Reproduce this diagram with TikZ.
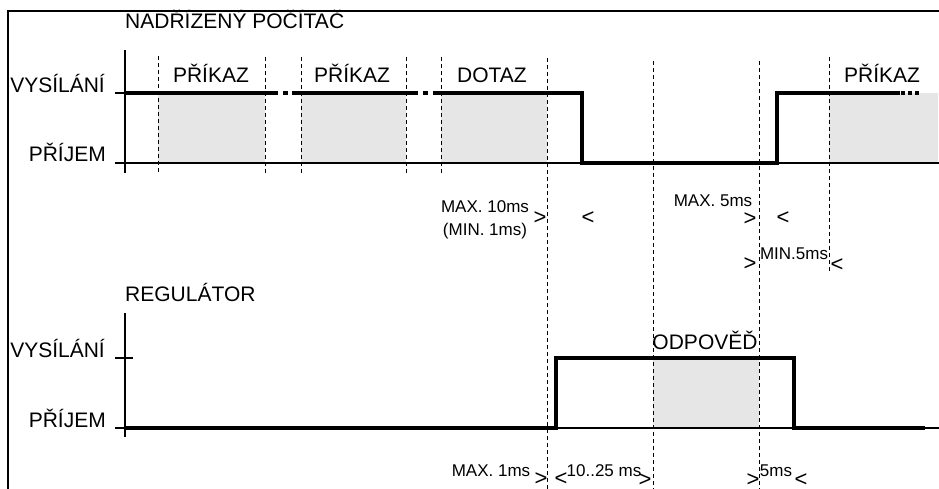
\documentclass[tikz,border=0pt]{standalone}
\usepackage{fontspec}
\setmainfont{Liberation Sans}
\definecolor{slotgray}{HTML}{E6E6E6}

\begin{document}
\begin{tikzpicture}[
  x=1pt, y=-1pt,
  lbl/.style={inner sep=0pt, font=\fontsize{21}{25}\selectfont},
  note/.style={inner sep=0pt, align=center, font=\fontsize{17}{23}\selectfont},
  chev/.style={inner sep=0pt, font=\fontsize{22}{22}\selectfont},
  sig/.style={line width=4pt},
  axis/.style={line width=2pt},
  guide/.style={line width=1pt, dash pattern=on 4pt off 3pt}
]
\useasboundingbox (0,0) rectangle (939,489);

% frame
\draw[axis] (939,11) -- (8,11) -- (8,489);

% grey slots
\fill[slotgray] (158,93) rectangle (265,163);
\fill[slotgray] (301,93) rectangle (406,163);
\fill[slotgray] (441,93) rectangle (547,163);
\fill[slotgray] (829,93) rectangle (938,163);
\fill[slotgray] (653,358) rectangle (759,428);

% guide lines
\draw[guide] (158,56) -- (158,173);
\draw[guide] (265,57) -- (265,173);
\draw[guide] (301,57) -- (301,173);
\draw[guide] (406,57) -- (406,173);
\draw[guide] (441,57) -- (441,173);
\draw[guide] (547,58) -- (547,489);
\draw[guide] (653,61) -- (653,489);
\draw[guide] (759,61) -- (759,489);
\draw[guide] (829,57) -- (829,271);

% axes: master
\draw[axis] (125,50) -- (125,173);
\draw[axis] (115,93) -- (125,93);
\draw[axis] (115,163) -- (939,163);
% axes: regulator
\draw[axis] (125,313) -- (125,437);
\draw[axis] (115,358) -- (133,358);
\draw[axis] (115,428) -- (939,428);

% master signal
\draw[sig] (125,93) -- (278,93);
\draw[sig] (283,93) -- (288,93);
\draw[sig] (292,93) -- (418,93);
\draw[sig] (423,93) -- (428,93);
\draw[sig] (433,93) -- (582,93) -- (582,163) -- (777,163) -- (777,93) -- (900,93);
\draw[sig, dash pattern=on 4pt off 3pt] (901,93) -- (921,93);

% regulator signal
\draw[sig] (125,428) -- (556,428) -- (556,358) -- (794,358) -- (794,428) -- (925,428);

% master labels
\node[lbl, anchor=base west] (master) at (125,29) {NADŘÍZENÝ POČÍTAČ};
\node[lbl, anchor=base east] (mvys) at (105,93) {VYSÍLÁNÍ};
\node[lbl, anchor=base east] (mpri) at (106,162) {PŘÍJEM};
\node[lbl, anchor=base] (cmd1)  at (211,83) {PŘÍKAZ};
\node[lbl, anchor=base] (cmd2)  at (352,83) {PŘÍKAZ};
\node[lbl, anchor=base] (query) at (492,83) {DOTAZ};
\node[lbl, anchor=base] (cmd3)  at (882,83) {PŘÍKAZ};

% regulator labels
\node[lbl, anchor=base west] (reg) at (125,301) {REGULÁTOR};
\node[lbl, anchor=base east] (svys) at (105,357) {VYSÍLÁNÍ};
\node[lbl, anchor=base east] (spri) at (106,427) {PŘÍJEM};
\node[lbl, anchor=base] (reply) at (705,349) {ODPOVĚĎ};

% timing notes
\node[note] (max10) at (485,220) {MAX. 10ms\\(MIN. 1ms)};
\node[chev] (gt1) at (540,218) {>};
\node[chev] (lt1) at (588,218) {<};
\node[note, anchor=base] (max5) at (713,207) {MAX. 5ms};
\node[chev] (gt2) at (750,219) {>};
\node[chev] (lt2) at (783,218) {<};
\node[note, anchor=base] (min5) at (794,259) {MIN.5ms};
\node[chev] (gt3) at (750,264) {>};
\node[chev] (lt3) at (837,265) {<};

\node[note, anchor=base] (max1) at (491,476) {MAX. 1ms};
\node[chev] (gt4) at (541,479) {>};
\node[chev] (lt4) at (561,479) {<};
\node[note, anchor=base] (resp) at (604,476) {10..25 ms};
\node[chev] (gt5) at (645,480) {>};
\node[chev] (gt6) at (753,480) {>};
\node[note, anchor=base] (gap5) at (776,476) {5ms};
\node[chev] (lt6) at (801,480) {<};
\end{tikzpicture}
\end{document}
